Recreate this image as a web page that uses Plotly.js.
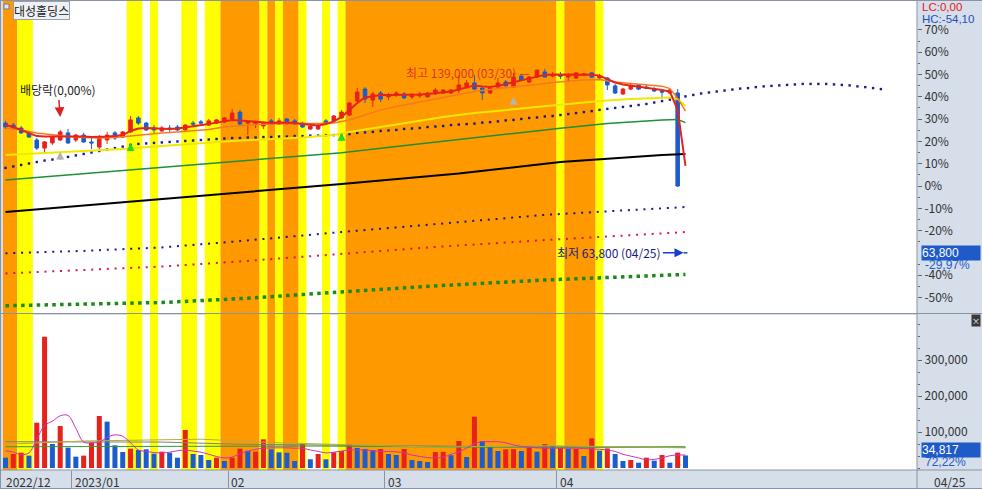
<!DOCTYPE html>
<html><head><meta charset="utf-8">
<script src="https://cdn.plot.ly/plotly-3.0.1.min.js"></script>
<style>html,body{margin:0;padding:0;background:#d5dee9;}#chart{width:982px;height:489px;}</style>
</head><body><div id="chart"></div>
<script>
// ---------------- data ----------------
const STOCK_NAME = '대성홀딩스';
const BASE_PRICE = 91100;           // 0% reference price
const PCT_TICKS = [70,60,50,40,30,20,10,0,-10,-20,-40,-50];
const PCT_MINOR = [65,55,45,35,25,15,5,-5,-15,-25,-35,-45];
const MONTH_LABELS = ['2022/12','2023/01','02','03','04'];
const MONTH_START = [0,9,29,49,71];
const LAST_DATE = '04/25';

const OPEN = [116800,116000,114800,112800,109900,106600,108700,109900,112800,109900,
111900,109100,107000,109900,112800,111100,113200,118900,116800,114800,
113600,114800,115200,114000,116800,117300,116000,116800,117300,118500,
121300,116800,116400,115600,117700,116400,118500,117700,116800,114400,
114400,117700,117700,118900,120100,125800,130700,126200,129100,127500,
128300,128700,127500,127900,127500,128700,129100,129100,130300,131500,
133200,131100,129100,131500,133600,131500,136000,133600,135600,137700,
136000,136400,135600,135200,136400,137300,135200,135200,132000,128700,
130700,132400,131500,130700,129900,129100,129100,63800];
const HIGH = [117700,116800,115600,113600,110700,109500,111500,114000,114400,112400,
112800,110700,111900,113200,113600,113600,119700,119700,117300,116000,
115600,116000,116000,116400,117700,118100,118500,118500,119300,122600,
122200,117700,117700,117300,118500,118900,118900,118500,117300,116400,
116400,118500,120100,122200,125400,131100,131500,129500,129900,129100,
129900,129500,129100,129500,129500,131100,130700,130700,136400,134400,
136400,132000,131100,135200,134400,137300,136900,136000,138500,139000,
137700,137700,137300,137700,137300,137700,136900,135600,132800,131100,
132800,132800,132400,131500,130300,130700,130700,63800];
const LOW = [114400,114000,112400,110700,105800,104600,107900,109500,108300,109100,
108700,106200,105800,108300,109900,110700,112800,116000,113600,112800,
113200,113200,113600,113600,115600,116400,115600,116400,116800,118100,
115600,111900,114800,114400,116000,116000,116000,116000,114800,114000,
114000,116400,117300,118500,119700,125400,125000,123400,125400,126200,
127500,126600,126600,127100,127100,128300,128700,128700,129100,131100,
130300,126200,128700,131100,132000,131100,134000,133200,135200,135600,
135600,134800,133600,134800,136000,135200,134800,130300,128700,128300,
130300,130300,130700,129500,126600,128700,90700,63800];
const CLOSE = [115200,114800,112800,111100,106600,109100,111100,113200,108700,111900,
109100,108700,111100,111900,110700,113200,118100,116800,114000,114000,
114800,114400,114000,116000,116400,116800,117700,118100,118900,120900,
116400,117300,117300,116800,116400,117700,116800,116400,115200,115600,
115600,116800,119700,121300,125000,129500,126600,128700,126600,128300,
129100,127100,128300,128700,129100,130300,130300,130300,132400,133200,
130700,129100,131100,133200,132000,135600,134400,135600,138500,135600,
136400,136000,136000,137300,136900,135600,136000,132400,129100,130700,
132000,130700,131100,129900,129500,130300,91100,63800];

const VOLUME = [28600,38900,42600,34300,125900,364800,66700,116700,56500,31500,
34300,70400,144400,128700,63000,44400,53700,50000,51900,39800,
45400,42600,28700,105600,38900,36100,22200,28700,19400,28700,
53700,48100,45400,79600,51900,43500,42500,19400,66700,24200,
38900,24200,43600,47200,66700,55600,52800,50000,52800,38900,
36100,52800,22200,19400,16700,44400,45000,35300,75000,30600,
142500,75000,61100,47200,51900,52500,47200,61100,45300,66700,
61100,56400,53600,52800,33300,82500,48100,54600,38900,19400,
22200,14800,28700,20400,36100,14800,42600,34817];
const VOL_DIR = 'duuduududd'+'uuuddduddd'+'uddudddudu'+'uduuddddud'+'uduuudddud'+
                'duddduudud'+'uddduududu'+'dududududd'+'udududud';

const VOL_MA5 = [48000,44000,37000,42000,80000,118000,130000,145000,146000,110000,
72000,70000,72000,85000,92000,88000,70000,50000,46000,43000,
42000,44000,48000,50000,47000,44000,38000,32000,28000,30000,
40000,46000,52000,55000,56000,56000,56000,55000,55000,50000,
46000,42000,44000,47000,50000,50000,50000,48000,46000,46000,
45000,42000,36000,32000,29000,28000,30000,38000,45000,55000,
68000,73000,73000,73000,70000,64000,60000,58000,56000,55000,
55000,55000,55000,55000,54000,53000,52000,50000,46000,38000,
33000,28000,23000,24000,28000,34000,36000,36000];
const VOL_MA_GRAY_DAYS = [0,20,30,50,70,87];
const VOL_MA_GRAY = [73000,72000,66000,61000,58000,57000];
const VOL_MA_GREEN_DAYS = [0,20,40,60,87];
const VOL_MA_GREEN = [59000,60000,61000,58000,59000];
const VOL_MA_OLIVE_DAYS = [0,10,25,35,55,70,87];
const VOL_MA_OLIVE = [66000,75000,80000,70000,58000,62000,56000];

const MA5 = [116000,115200,114000,112800,111500,111300,111300,111500,111500,111500,
111300,111100,111100,111300,111500,111900,113600,114600,114800,114600,
114400,114400,114600,115000,115600,116000,116400,117000,117700,118100,
117900,117700,117300,117000,116800,117000,117000,116800,116400,116000,
115800,116400,117500,119300,122200,125000,127300,127900,128300,128300,
128300,128300,128300,128500,128700,129100,129300,129700,130500,131500,
132200,131800,131500,132000,132800,133600,134400,135000,135800,136500,
136700,136700,136500,136500,136500,136500,136200,134800,133400,132600,
132200,131800,131300,130900,130300,129700,122200,99300];
const MA20_DAYS = [0,2,4,6,8,10,12,14,16,18,20,22,24,26,28,30,32,34,36,38,40,42,44,46,48,50,52,54,56,58,60,62,64,66,68,70,72,74,76,78,80,82,84,85,86,87];
const MA20 = [114800,114000,112800,111900,111300,110900,110700,110900,111500,112400,
112800,113200,113600,114200,115200,115800,116200,116400,116600,116600,
116600,116800,118100,120100,122200,123600,124800,126200,127500,128700,
129700,130500,131100,131800,132600,133400,134000,134400,134600,133600,
133000,132400,131900,130900,127000,121700];
const MA60_DAYS = [0,5,10,15,20,25,29,33,38,42,44,48,52,56,60,64,68,72,76,80,84,85,86,87];
const MA60 = [103800,104600,105400,106200,107400,108700,109500,110100,110900,111900,
113200,115200,117300,119300,120900,122200,123400,124600,125800,126600,127300,127300,126600,123800];
const MA120_DAYS = [0,10,20,30,43,50,58,65,71,77,84,86,87];
const MA120 = [93600,96200,98900,101500,104700,107200,110200,112600,114700,116600,118100,118300,117000];
const MA240_DAYS = [0,10,20,30,43,58,71,84,87];
const MA240 = [80500,83100,85800,88500,91900,96200,100900,103800,104200];

const LEAD_SPAN = [98500,99100,99700,100300,100900,101500,101900,102500,103000,103600,
104200,104800,105400,106000,106600,107200,107900,108300,108500,108700,
108900,109100,109300,109500,109700,109900,110100,110300,110500,110700,
110700,110900,110900,111100,111100,111300,111300,111500,111500,111700,
111700,111900,111900,111900,112300,112800,113000,113200,113600,113800,
114000,114400,114600,114800,115200,115400,115600,116000,116200,116400,
116600,117000,117200,117500,117900,118100,118500,118900,119100,119500,
119700,120100,120500,120900,121300,121700,122200,122600,123000,123400,
123800,124200,124600,125200,125800,126400,127100,127700,128300,128900,
129300,129700,130100,130500,130900,131100,131500,131800,132000,132200,
132400,132600,132800,132800,132800,132800,132600,132400,132200,131800,
131500,131100,130700];
const ENV_DAYS = [0,10,20,30,43,55,69,80,87];
const ENV_NAVY = [63600,64600,66000,68600,72300,75600,79300,81300,82500];
const ENV_RED = [55400,56800,58200,60300,63300,66200,69000,71100,72300];
const ENV_GREEN = [42200,42700,43500,45100,47900,50300,52700,54100,55000];

// background signal bands per day: 0 none, 1 yellow, 2 orange
const BAND = [2,2,1,1,0,0,0,0,0,0, 0,0,0,0,0,0,1,1,0,1, 0,0,0,1,1,0,1,1,2,2,
              2,2,2,1,2,1,2,2,1,0, 0,1,0,1,2,2,2,2,2,2, 2,2,2,2,2,2,2,2,2,2,
              2,2,2,2,2,2,2,2,2,2, 2,1,2,2,2,2,1,0,0,0, 0,0,0,0,0,0,0,0];

const GREEN_SIG_DAYS = [16,43];
const GREEN_SIG = [108700,112900];
const GRAY_SIG_DAYS = [7,65];
const GRAY_SIG = [105200,127600];

const DIV_DAY = 7;      const DIV_TEXT = '배당락(0,00%)';
const HIGH_TEXT = '최고 139,000 (03/30) —';
const LOW_TEXT = '최저 63,800 (04/25)';
const LAST_PRICE = 63800; const LAST_PCT = '-29,97%';
const LAST_VOL = 34817;   const LAST_VOL_PCT = '72,22%';

// ---------------- drawing ----------------
const FONT = 'Noto Sans CJK KR, Noto Sans, sans-serif';
const NUMFONT = 'Liberation Sans, Arial, sans-serif';
const RED = '#e8221b', BLUE = '#1c5ccc', PANEL = '#d5dee9', FRAME = '#8a93a6';
const DAYS = OPEN.map((_, i) => i);
const X_RANGE = [-0.32, 116.62];
const W = 914, H = 469; // plot area size in px (for paper fractions)
const px = v => v / W, py = v => v / H;

const traces = [];
const line = (x, y, color, width, dash, yaxis) => ({type:'scatter', mode:'lines', x, y, xaxis:'x', yaxis: yaxis||'y',
  line:{color, width, dash: dash||'solid'}, hoverinfo:'skip', showlegend:false});

traces.push(line(ENV_DAYS, ENV_GREEN, '#1a8a1a', 3.5, '3.5px,4.3px'));
traces.push(line(ENV_DAYS, ENV_RED, '#d81848', 2, '2px,5.8px'));
traces.push(line(ENV_DAYS, ENV_NAVY, '#1a1a90', 2, '2px,5.8px'));
traces.push({type:'scatter', mode:'markers', x: LEAD_SPAN.map((_, i) => i), y: LEAD_SPAN, xaxis:'x', yaxis:'y',
  marker:{symbol:'square', size:2.4, color:'#1a1a90', line:{width:0}}, hoverinfo:'skip', showlegend:false});
traces.push(line(MA240_DAYS, MA240, '#000000', 2));
traces.push(line(MA120_DAYS, MA120, '#1f8f3a', 1.5));
traces.push(line(MA60_DAYS, MA60, '#f0e800', 2));
traces.push(line(MA20_DAYS, MA20, '#f47a20', 1.5));
traces.push(line(DAYS, MA5, RED, 2));

traces.push({type:'candlestick', x: DAYS, open: OPEN, high: HIGH, low: LOW, close: CLOSE,
  xaxis:'x', yaxis:'y', whiskerwidth:0,
  increasing:{line:{color:RED, width:1}, fillcolor:RED},
  decreasing:{line:{color:BLUE, width:1}, fillcolor:BLUE},
  hoverinfo:'skip', showlegend:false});

traces.push({type:'scatter', mode:'markers', x: GREEN_SIG_DAYS, y: GREEN_SIG, xaxis:'x', yaxis:'y',
  marker:{symbol:'arrow-up', size:8, color:'#22dd22'}, hoverinfo:'skip', showlegend:false});
traces.push({type:'scatter', mode:'markers', x: GRAY_SIG_DAYS, y: GRAY_SIG, xaxis:'x', yaxis:'y',
  marker:{symbol:'arrow-up', size:8, color:'#b4b4b4'}, hoverinfo:'skip', showlegend:false});

traces.push({type:'bar', x: DAYS, y: VOLUME, xaxis:'x', yaxis:'y2', width:0.64,
  marker:{color: DAYS.map(i => VOL_DIR[i] === 'u' ? RED : BLUE), line:{width:0}},
  hoverinfo:'skip', showlegend:false});
traces.push(line(VOL_MA_GRAY_DAYS, VOL_MA_GRAY, '#808080', 1, null, 'y2'));
traces.push(line(VOL_MA_GREEN_DAYS, VOL_MA_GREEN, '#2f9a3a', 1, null, 'y2'));
traces.push(line(VOL_MA_OLIVE_DAYS, VOL_MA_OLIVE, '#b0b040', 1, null, 'y2'));
traces.push({type:'scatter', mode:'lines', x: DAYS, y: VOL_MA5, xaxis:'x', yaxis:'y2',
  line:{color:'#d030c0', width:1, shape:'spline'}, hoverinfo:'skip', showlegend:false});

// bands -> merged rectangles
const shapes = [];
const bandColor = {1:'#ffff00', 2:'#ff9900'};
for (let i = 0; i < BAND.length;) {
  let j = i; while (j + 1 < BAND.length && BAND[j + 1] === BAND[i]) j++;
  if (BAND[i]) shapes.push({type:'rect', layer:'below', xref:'x', yref:'paper', x0:i - 0.5, x1:j + 0.5, y0:0, y1:1,
    fillcolor: bandColor[BAND[i]], line:{width:0}});
  i = j + 1;
}
const hline = (yPix, x0Pix, x1Pix) => ({type:'line', xref:'paper', yref:'paper', x0:px(x0Pix - 3), x1:px(x1Pix - 3),
  y0:py(470 - yPix), y1:py(470 - yPix), line:{color:FRAME, width:1}});
const vline = (xPix, y0Pix, y1Pix) => ({type:'line', xref:'paper', yref:'paper', x0:px(xPix - 3), x1:px(xPix - 3),
  y0:py(470 - y0Pix), y1:py(470 - y1Pix), line:{color:FRAME, width:1}});
shapes.push(hline(313.5, 0, 982));
shapes.push(hline(470, 0, 982));
shapes.push(hline(488.5, 0, 982));
shapes.push(hline(0.5, 0, 982));
shapes.push(vline(917, 0, 489));
shapes.push(vline(0.5, 0, 489));
shapes.push({type:'rect', xref:'paper', yref:'paper', x0:px(1), x1:px(6), y0:py(461), y1:py(466),
  fillcolor:'#dfe6f0', line:{color:'#6f7a90', width:1}});

const annotations = [];
const tf = (size, color, fam) => ({family:fam || FONT, size, color});
annotations.push({xref:'paper', yref:'paper', x:px(10), y:py(469), xanchor:'left', yanchor:'top', text:STOCK_NAME,
  showarrow:false, font:tf(12,'#222'), bgcolor:'#edf1f6', bordercolor:'#9aa0aa', borderwidth:1, borderpad:0});
annotations.push({xref:'x', yref:'y', x:DIV_DAY, y:119300, text:DIV_TEXT, showarrow:true, ax:-2, ay:-27,
  arrowcolor:'#e02020', arrowhead:2, arrowsize:1.3, arrowwidth:1.5, standoff:0, font:tf(12,'#222')});
annotations.push({xref:'x', yref:'y', x:67.4, y:137500, xanchor:'right', yanchor:'middle', text:HIGH_TEXT,
  showarrow:false, font:tf(12,'#e0341e')});
annotations.push({xref:'x', yref:'y', x:DAYS[DAYS.length - 1], y:LAST_PRICE, text:LOW_TEXT, showarrow:true,
  ax:-76, ay:0, standoff:2, arrowcolor:'#1a3ad0', arrowhead:2, arrowsize:1.2, arrowwidth:1.5, font:tf(12,'#1a1a80')});
// right panel labels
annotations.push({xref:'paper', yref:'paper', x:px(918), y:py(463.5), xanchor:'left', yanchor:'middle', text:'LC:0,00',
  showarrow:false, font:tf(11.5,'#e02020',NUMFONT), borderpad:0});
annotations.push({xref:'paper', yref:'paper', x:px(918), y:py(451), xanchor:'left', yanchor:'middle', text:'HC:-54,10',
  showarrow:false, font:tf(11.5,'#2050c0',NUMFONT), borderpad:0});
annotations.push({xref:'paper', yref:'y', x:px(918), y:LAST_PRICE, xanchor:'left', yanchor:'middle', text:'63,800',
  showarrow:false, font:tf(12,'#ffffff',NUMFONT), bgcolor:'#1f5bc8', width:58, align:'left', borderpad:0});
annotations.push({xref:'paper', yref:'y', x:px(921), y:LAST_PRICE, yshift:-12, xanchor:'left', yanchor:'middle', text:LAST_PCT,
  showarrow:false, font:tf(12,'#1f5bc8',NUMFONT), borderpad:0});
annotations.push({xref:'paper', yref:'y2', x:px(918), y:LAST_VOL, yshift:5, xanchor:'left', yanchor:'middle',
  text:LAST_VOL.toLocaleString('en-US'), showarrow:false, font:tf(12,'#ffffff',NUMFONT), bgcolor:'#1f5bc8', width:58, align:'left', borderpad:0});
annotations.push({xref:'paper', yref:'y2', x:px(921), y:LAST_VOL, yshift:-7, xanchor:'left', yanchor:'middle', text:LAST_VOL_PCT,
  showarrow:false, font:tf(12,'#1f5bc8',NUMFONT), borderpad:0});
annotations.push({xref:'paper', yref:'paper', x:px(973.5), y:py(470 - 320.5), xanchor:'center', yanchor:'middle', text:'×',
  showarrow:false, font:tf(8,'#ffffff'), bgcolor:'#3a3a3a', borderpad:0});
// x labels
MONTH_LABELS.forEach((t, k) => annotations.push({xref:'x', yref:'paper', x:Math.max(MONTH_START[k] - 0.5, X_RANGE[0]), y:0,
  xshift:1, yshift:-1, xanchor:'left', yanchor:'top', text:t, showarrow:false, font:tf(12,'#333')}));
annotations.push({xref:'paper', yref:'paper', x:px(929), y:0, yshift:-1, xanchor:'left', yanchor:'top', text:LAST_DATE,
  showarrow:false, font:tf(12,'#333')});

const layout = {
  width:982, height:489, autosize:false,
  margin:{l:3, r:65, t:1, b:19, pad:0},
  paper_bgcolor:PANEL, plot_bgcolor:'#ffffff',
  font:{family:FONT, size:12, color:'#333'},
  showlegend:false, hovermode:false, boxgap:0.35,
  xaxis:{domain:[0,1], range:X_RANGE, anchor:'y2', showgrid:false, zeroline:false, showticklabels:false,
    tickmode:'array', tickvals: MONTH_START.map(d => d - 0.5), ticks:'outside', ticklen:18, tickcolor:FRAME, tickwidth:1,
    showline:false, rangeslider:{visible:false}, fixedrange:true},
  yaxis:{domain:[py(470 - 313), 1], range:[39224,166677], side:'right', anchor:'x', showgrid:false, zeroline:false,
    showline:false, tickmode:'array', tickvals: PCT_TICKS.map(p => BASE_PRICE * (1 + p / 100)),
    ticktext: PCT_TICKS.map(p => p + '%'), ticks:'outside', ticklen:4, tickcolor:'#666',
    tickfont:tf(12,'#333'),
    minor:{tickmode:'array', tickvals: PCT_MINOR.map(p => BASE_PRICE * (1 + p / 100)), ticks:'outside', ticklen:2, tickcolor:'#666'}},
  yaxis2:{domain:[0, py(470 - 315)], range:[-5556,425000], side:'right', anchor:'x', showgrid:false, zeroline:false,
    showline:false, tickmode:'array', tickvals:[100000,200000,300000], ticktext:['100,000','200,000','300,000'],
    ticks:'outside', ticklen:4, tickcolor:'#666', tickfont:tf(12,'#333'),
    minor:{tickmode:'linear', tick0:0, dtick:100000/3, ticks:'outside', ticklen:2, tickcolor:'#666'}},
  shapes, annotations
};
Plotly.newPlot('chart', traces, layout, {staticPlot:true, displayModeBar:false});
</script></body></html>
